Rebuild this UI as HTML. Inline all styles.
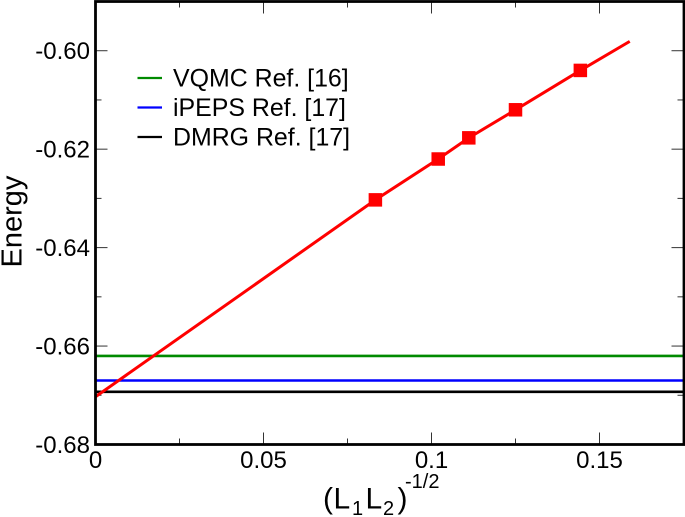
<!DOCTYPE html>
<html lang="en">
<head>
<meta charset="utf-8">
<title>Energy vs (L1L2)^-1/2</title>
<style>
html,body{margin:0;padding:0;background:#fff;}
svg{display:block;font-family:"Liberation Sans",Arial,sans-serif;}
</style>
</head>
<body>
<svg id="chart" width="685" height="517" viewBox="0 0 685 517" xmlns="http://www.w3.org/2000/svg">
  <rect x="0" y="0" width="685" height="517" fill="#fff"/>
  <g id="ticks"></g>
  <g id="refs"></g>
  <g id="fit"></g>
  <rect x="95.5" y="1.5" width="588.5" height="443" fill="none" stroke="#000" stroke-width="2.8"/>
  <g id="labels" font-size="24" fill="#000"></g>
  <g id="legend"></g>
  <text transform="translate(21.5,267.5) rotate(-90)" font-size="29" fill="#000">Energy</text>
  <text fill="#000" font-size="30">
    <tspan x="323" y="508.5">(</tspan><tspan x="333.5" y="508.5">L</tspan><tspan x="352" y="515" font-size="20">1</tspan><tspan x="365.5" y="508.5">L</tspan><tspan x="383" y="515" font-size="20">2</tspan><tspan x="397.5" y="508.5">)</tspan><tspan x="405" y="488" font-size="20">-1/2</tspan>
  </text>
</svg>
<script>
// Chart data
const xMajorTicks = [0, 0.05, 0.1, 0.15];
const xMinorTicks = [0.025, 0.075, 0.125];
const yMajorTicks = [-0.68, -0.66, -0.64, -0.62, -0.60];
const yMinorTicks = [-0.67, -0.65, -0.63, -0.61];
const xTickLabels = ["0", "0.05", "0.1", "0.15"];
const yTickLabels = ["-0.68", "-0.66", "-0.64", "-0.62", "-0.60"];
const pointX = [0.0833, 0.102, 0.1111, 0.125, 0.1443];
const pointY = [-0.6303, -0.6220, -0.6177, -0.6120, -0.6040];
const fitX = [0, 0.0833, 0.102, 0.1111, 0.125, 0.1443, 0.159];
const fitY = [-0.6703, -0.6303, -0.6220, -0.6177, -0.6120, -0.6040, -0.5981];
const refNames = ["VQMC Ref. [16]", "iPEPS Ref. [17]", "DMRG Ref. [17]"];
const refValues = [-0.662, -0.667, -0.6693];
const refColors = ["#008a00", "#0000ff", "#000000"];

const NS = "http://www.w3.org/2000/svg";
const xDomain = [0, 0.175];
const yDomain = [-0.68, -0.59];
const plot = {left: 95.5, right: 683.5, top: 1.5, bottom: 444.5};
function sx(v){ return plot.left + (v - xDomain[0]) / (xDomain[1] - xDomain[0]) * (plot.right - plot.left); }
function sy(v){ return plot.bottom - (v - yDomain[0]) / (yDomain[1] - yDomain[0]) * (plot.bottom - plot.top); }
function make(tag, parent){ const e = document.createElementNS(NS, tag); parent.appendChild(e); return e; }
function setLine(e, x1, y1, x2, y2, color, width){
  e.setAttribute("x1", x1); e.setAttribute("y1", y1);
  e.setAttribute("x2", x2); e.setAttribute("y2", y2);
  e.setAttribute("stroke", color); e.setAttribute("stroke-width", width);
}

const ticks = document.getElementById("ticks");
const labels = document.getElementById("labels");
const refs = document.getElementById("refs");
const fit = document.getElementById("fit");
const legend = document.getElementById("legend");
const tickColor = "#333";

function drawXTick(v, len){
  const a = make("line", ticks);
  
  
  setLine(a, sx(v), plot.bottom, sx(v), plot.bottom - len, tickColor, 1);
  const b = make("line", ticks);
  
  
  setLine(b, sx(v), plot.top, sx(v), plot.top + len, tickColor, 1);
}
function drawYTick(v, len){
  const a = make("line", ticks);
  
  
  setLine(a, plot.left, sy(v), plot.left + len, sy(v), tickColor, 1);
  const b = make("line", ticks);
  
  
  setLine(b, plot.right, sy(v), plot.right - len, sy(v), tickColor, 1);
}
xMajorTicks.forEach(v => drawXTick(v, 12));
xMinorTicks.forEach(v => drawXTick(v, 6));
yMajorTicks.forEach(v => drawYTick(v, 12));
yMinorTicks.forEach(v => drawYTick(v, 6));

xMajorTicks.forEach((v, i) => {
  const t = make("text", labels);
  
  
  t.setAttribute("x", sx(v));
  t.setAttribute("y", 468);
  t.setAttribute("text-anchor", "middle");
  t.textContent = xTickLabels[i];
});
yMajorTicks.forEach((v, i) => {
  const t = make("text", labels);
  
  
  t.setAttribute("x", 90);
  t.setAttribute("y", sy(v) + 8.5);
  t.setAttribute("text-anchor", "end");
  t.textContent = yTickLabels[i];
});

refValues.forEach((v, i) => {
  const l = make("line", refs);
  
  
  setLine(l, plot.left, sy(v), plot.right, sy(v), refColors[i], 2.6);
});

const path = make("polyline", fit);


path.setAttribute("points", fitX.map((x, i) => sx(x) + "," + sy(fitY[i])).join(" "));
path.setAttribute("fill", "none");
path.setAttribute("stroke", "#ff0000");
path.setAttribute("stroke-width", 3);

const markerSize = 13.5;
pointX.forEach((x, i) => {
  const r = make("rect", fit);
  
  
  r.setAttribute("x", sx(x) - markerSize / 2);
  r.setAttribute("y", sy(pointY[i]) - markerSize / 2);
  r.setAttribute("width", markerSize);
  r.setAttribute("height", markerSize);
  r.setAttribute("fill", "#ff0000");
});

refNames.forEach((name, i) => {
  const rowY = 78 + i * 29.5;
  const l = make("line", legend);
  
  
  setLine(l, 137.5, rowY, 162, rowY, refColors[i], 2.2);
  const t = make("text", legend);
  
  
  t.setAttribute("x", 173);
  t.setAttribute("y", rowY + 8.5);
  t.setAttribute("font-size", 24.9);
  t.setAttribute("fill", "#000");
  t.textContent = name;
});
</script>
</body>
</html>
